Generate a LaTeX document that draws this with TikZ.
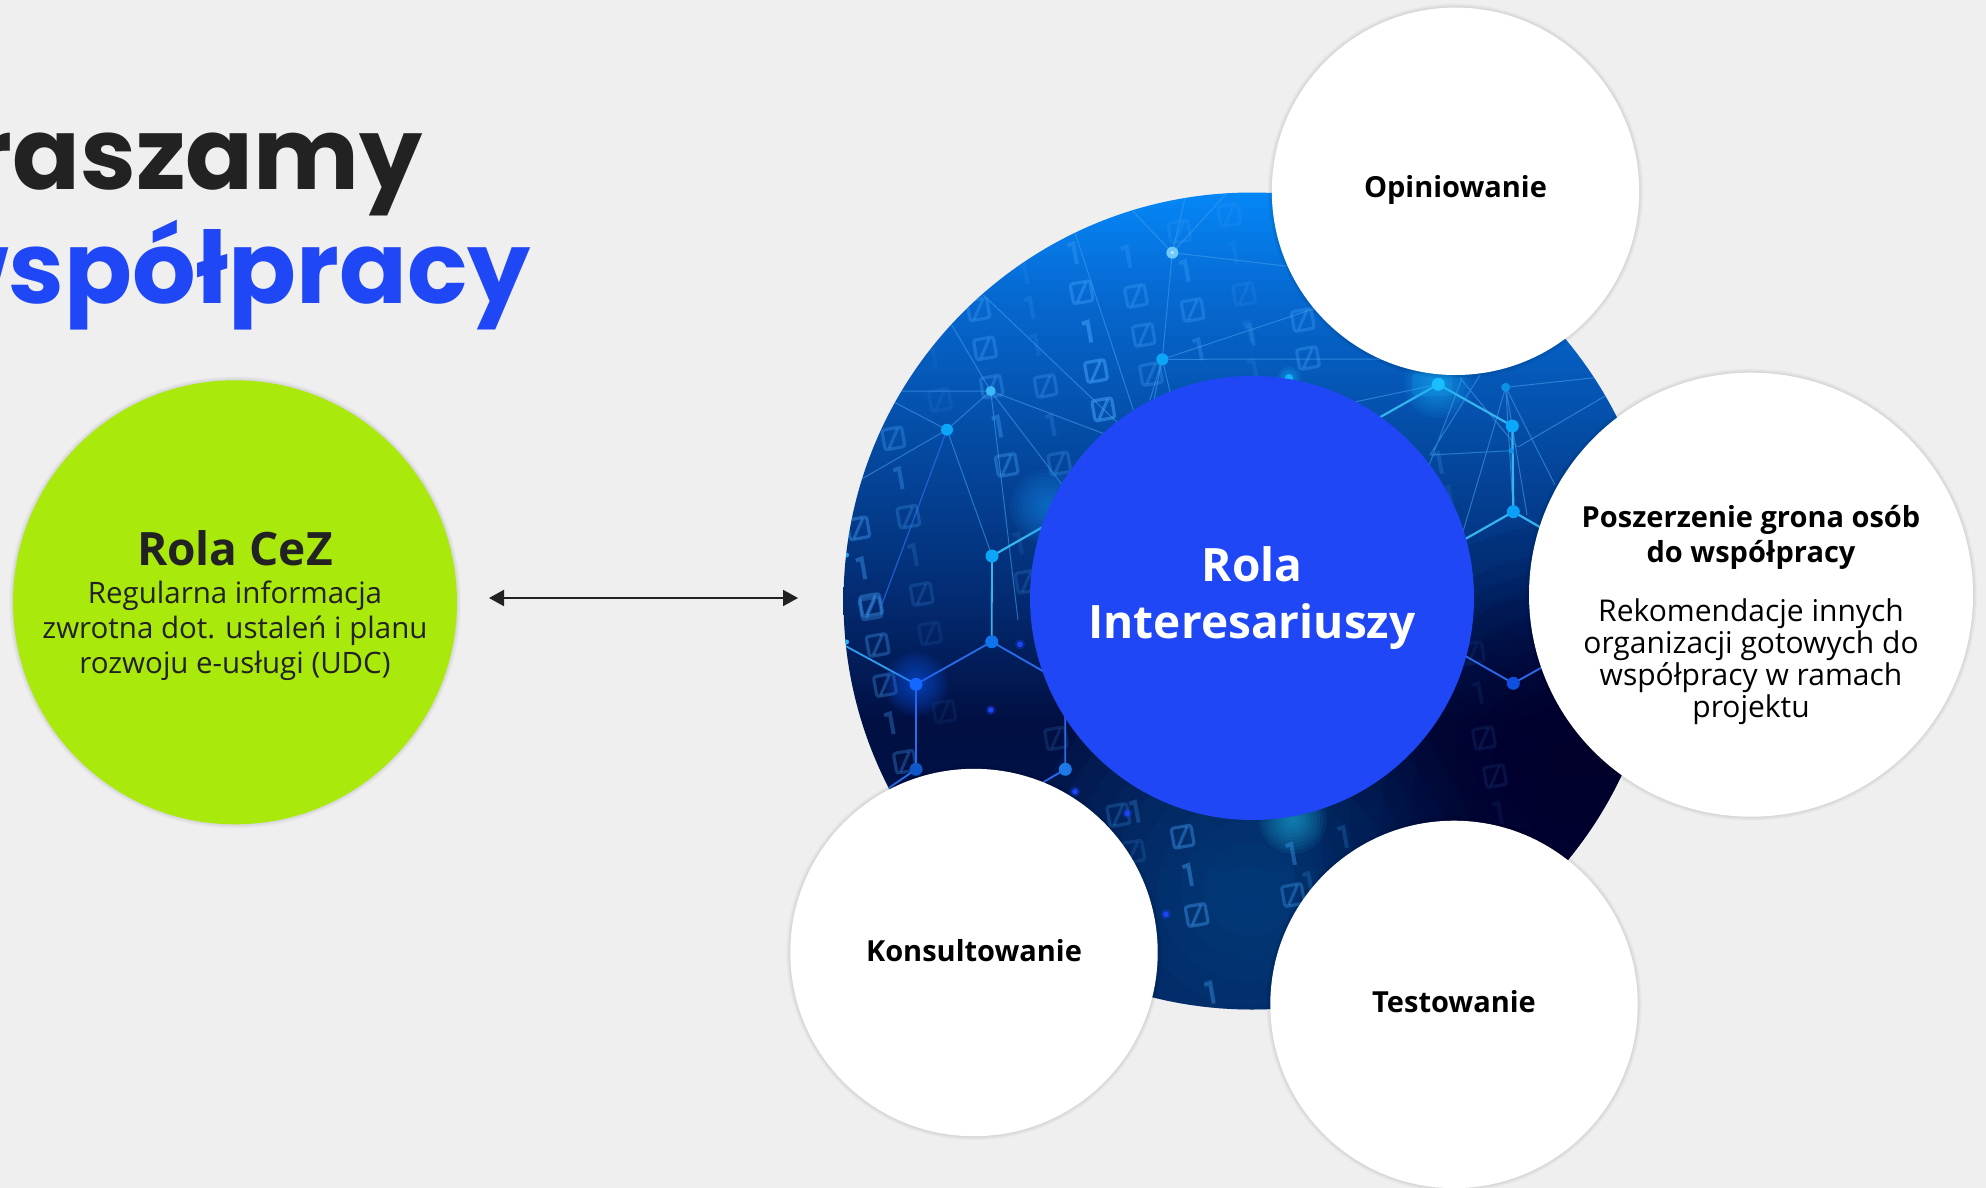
\documentclass[tikz,border=0pt]{standalone}
\usepackage{fontspec}
\setmainfont{Open Sans}
\newfontfamily\popfont{Poppins}
\usetikzlibrary{arrows.meta}
\definecolor{pagebg}{HTML}{EFEFEF}
\definecolor{ink}{HTML}{222222}
\definecolor{brandblue}{HTML}{1F47F5}
\definecolor{brandgreen}{HTML}{AAE90C}
\definecolor{digit}{HTML}{46A6FF}
\definecolor{wire}{HTML}{3E9BEC}
\definecolor{wirebright}{HTML}{35B4F0}
\definecolor{wireblue}{HTML}{2A6CEC}
\definecolor{dotcyan}{HTML}{0BA6F8}
\definecolor{sa}{HTML}{021C55}
\definecolor{sb}{HTML}{010F42}
\definecolor{sc}{HTML}{032A70}
\definecolor{sd}{HTML}{04489F}
\definecolor{se}{HTML}{0668D0}
\definecolor{sf}{HTML}{0587F7}
\definecolor{glowbase}{HTML}{0F5AA0}
\definecolor{glowdark}{HTML}{00002A}
\definecolor{glowa}{HTML}{1690F0}
\definecolor{glowb}{HTML}{22C6EE}
\definecolor{glowc}{HTML}{18B4FA}
\definecolor{glowd}{HTML}{1060FF}
\definecolor{da}{HTML}{0E74EE}
\definecolor{db}{HTML}{1468FF}
\definecolor{dc}{HTML}{0F56C8}
\definecolor{dd}{HTML}{1E78E8}
\definecolor{de}{HTML}{19BEFF}
\definecolor{df}{HTML}{0AA8FA}
\definecolor{dg}{HTML}{0AA0F8}
\definecolor{dh}{HTML}{0E4FE0}
\definecolor{di}{HTML}{0E8FE8}
\definecolor{dj}{HTML}{2A9FF0}
\definecolor{dk}{HTML}{2AB5F0}
\definecolor{dl}{HTML}{1A3CF0}
\definecolor{dm}{HTML}{1B46F5}
\pgfdeclareverticalshading{netbg}{100bp}{
 color(0bp)=(sa);
 color(25bp)=(sa);
 color(42.5bp)=(sb);
 color(50bp)=(sc);
 color(59bp)=(sd);
 color(68.5bp)=(se);
 color(75bp)=(sf);
 color(100bp)=(sf)}
\tikzset{
 bubble/.style={circle,inner sep=0pt,minimum size=#1,align=center},
 whitebubble/.style={bubble=#1,fill=white,text=black},
 headtext/.style={font=\fontsize{29}{35}\selectfont\bfseries,text=black,align=center,inner sep=0pt},
 bodytext/.style={font=\fontsize{30}{32}\selectfont,text=black,align=center,inner sep=0pt},
 titletext/.style={font=\fontsize{100}{110}\selectfont\popfont\bfseries,inner sep=0pt,anchor=base east},
 thinwire/.style={wire,line width=1pt,opacity=.62},
 hexwire/.style={wirebright,line width=2.2pt},
 bluewire/.style={wireblue,line width=1.8pt},
 twoway/.style={ink,line width=2pt,{Triangle[length=15pt,width=16pt]}-{Triangle[length=15pt,width=16pt]}}
}
\newcommand{\softring}[3]{%
 \foreach \k in {1,2,3,4}{\fill[black,opacity=.022] (#1,#2) circle ({#3+\k});}}
\newcommand{\glowat}[4]{%
 \foreach \k in {1,...,10}{\fill[#4,opacity=.075] (#1,#2) circle ({#3*\k/10});}}
\newcommand{\zb}[3]{%
 \begin{scope}[shift={(#1,#2)},rotate=10,opacity=#3]
  \draw[digit,line width=3.2pt,rounded corners=2.5pt] (-10,-10) rectangle (10,10);
  \draw[digit,line width=3pt] (-6,9) -- (6,-9);
 \end{scope}}
\newcommand{\ob}[3]{%
 \begin{scope}[shift={(#1,#2)},rotate=10,opacity=#3]
  \draw[digit,line width=4pt] (-6,-9) -- (0,-10) -- (0,11);
 \end{scope}}
\newcommand{\zz}[3]{\zb{\fpeval{840+(#1)/3}}{\fpeval{190+(#2)/3}}{#3}}
\newcommand{\oo}[3]{\ob{\fpeval{840+(#1)/3}}{\fpeval{190+(#2)/3}}{#3}}
\newcommand{\zy}[3]{\zb{\fpeval{840+(#1)/3}}{\fpeval{600+(#2)/3}}{#3}}
\newcommand{\oy}[3]{\ob{\fpeval{840+(#1)/3}}{\fpeval{600+(#2)/3}}{#3}}
\begin{document}
\begin{tikzpicture}[x=1pt,y=-1pt]
\useasboundingbox (0,0) rectangle (1986,1188);
\fill[pagebg] (0,0) rectangle (1986,1188);

% title (runs off the left edge of the page)
\node[titletext,text=ink] (titleone) at (423,189) {raszamy};
\node[titletext,text=brandblue] (titletwo) at (531,303.7) {współpracy};

% network picture
\begin{scope}
\clip (1252,601) circle (408.5);
\shade[shading=netbg] (1252,601) circle (408.5);
\glowat{1250}{890}{230}{glowbase}
\glowat{1590}{820}{300}{glowdark}
\glowat{1570}{760}{190}{glowdark}

% digits
\zz{725}{307}{.38}\zz{888}{318}{.3}\zz{1058}{360}{.3}\zz{1212}{312}{.14}\zz{911}{435}{.3}
\zz{768}{543}{.5}\zz{790}{658}{.5}\zz{933}{552}{.28}\zz{415}{358}{.3}\zz{435}{475}{.32}
\zz{455}{590}{.3}\zz{617}{588}{.28}\zz{300}{630}{.1}\zz{160}{745}{.3}\zz{500}{825}{.36}
\zz{658}{820}{.25}\zz{205}{980}{.25}\zz{55}{1015}{.38}\zz{93}{1245}{.38}\zz{245}{1212}{.18}
\zz{1018}{125}{.18}\zz{1168}{75}{.14}\zz{560}{1175}{.18}
\oo{705}{190}{.3}\oo{865}{200}{.26}\oo{1040}{243}{.3}\oo{1185}{190}{.12}\oo{557}{250}{.12}
\oo{575}{355}{.18}\oo{748}{425}{.5}\oo{590}{465}{.14}\oo{1080}{478}{.3}\oo{1230}{425}{.14}
\oo{283}{505}{.08}\oo{478}{710}{.36}\oo{638}{705}{.2}\oo{182}{865}{.32}\oo{225}{1095}{.18}
\oo{70}{1135}{.38}\oo{540}{1060}{.12}
\zy{92}{25}{.3}\zy{113}{135}{.32}\zy{135}{255}{.3}\zy{195}{485}{.28}\zy{270}{100}{.1}
\zy{313}{335}{.08}\zy{648}{415}{.15}\zy{835}{645}{.22}\zy{1028}{710}{.38}\zy{1070}{945}{.38}
\zy{880}{755}{.15}
\oy{155}{370}{.3}\oy{890}{635}{.25}\oy{1050}{825}{.4}\oy{1115}{1180}{.2}
\zb{1293}{895}{.32}\ob{1310}{883}{.2}\ob{1293}{854}{.36}\ob{1345}{837}{.2}\ob{1212}{992}{.22}
\zb{1302.7}{320}{.3}\zb{1308}{358}{.32}\ob{1252}{335}{.2}\ob{1255}{370}{.15}
\ob{1440}{463}{.2}\ob{1450}{497}{.12}\zb{1473}{653}{.08}\ob{1480}{693}{.08}
\zb{1484}{738}{.1}\zb{1495}{776}{.1}\ob{1500}{813}{.07}

% named vertices
\coordinate (na) at (1172.3,252.7);
\coordinate (nb) at (1162.3,359.3);
\coordinate (nc) at (990.7,391);
\coordinate (nd) at (947,429.7);
\coordinate (ne) at (992,556);
\coordinate (nf) at (991.7,641.7);
\coordinate (ng) at (916,684.3);
\coordinate (nh) at (916,769.3);
\coordinate (ni) at (1065.3,769.3);
\coordinate (ma) at (1438.3,384.3);
\coordinate (mb) at (1512.3,426);
\coordinate (mc) at (1513.3,511.7);
\coordinate (md) at (1513.3,683.3);
\coordinate (me) at (1505.7,387.3);
\coordinate (mf) at (1511,450.7);

% thin network lines
\draw[thinwire] (na) -- (1132.3,210.7) (na) -- (1185,198) (na) -- (1226.7,193.3) (na) -- (1320,270) (na) -- (nb);
\draw[thinwire] (nb) -- (1340,300) (nb) -- (1420,359) (nb) -- (1172,400) (nb) -- (1150,400) (nb) -- (1154,400);
\draw[thinwire] (nc) -- (951.7,325) (nc) -- (901.7,391) (nc) -- (nd) (nc) -- (1110,436) (nc) -- (1066,490) (nc) -- (1018,620);
\draw[thinwire] (983.3,295) -- (1120,425) (1075,233) -- (1135,415);
\draw[thinwire] (nd) -- (890,400) (nd) -- (860,480) (nd) -- (ne);
\draw[wireblue,line width=1.2pt,opacity=.75] (nd) -- (882,604);
\draw[thinwire] (ma) -- (1345,404);
\draw[thinwire] (me) -- (1610,376) (me) -- (1462,535) (me) -- (1555,485) (me) -- (1527,515) (me) -- (mc);
\draw[thinwire] (1518,447) -- (1612,392) (1430,455) -- (mf) (1430,455) -- (1480,375) (1428,468) -- (1462,378) (1460,378) -- (1517,447);
\draw[thinwire] (1566,338) -- (1640,372);

% hexagon lines
\draw[hexwire] (ne) -- (1048,524) (ma) -- (1375,420) (ma) -- (mb) -- (mc) (mc) -- (1460,542) (mc) -- (1545,530);
\draw[wirebright,line width=1.8pt] (ne) -- (nf);
\draw[wirebright!70!wireblue,line width=1.8pt] (ng) -- (840,643);
\draw[bluewire] (nf) -- (ng) (nf) -- (1048,674) (ng) -- (nh) (nh) -- (880,794) (ni) -- (1065.3,715) (ni) -- (1035,787) (md) -- (1460,653) (md) -- (1548,664);

% glows
\glowat{1048}{507}{38}{glowa}
\glowat{1293}{820}{34}{glowb}
\glowat{1438}{384}{34}{glowc}
\fill[glowc,opacity=.18,rounded corners=4pt] (1412,373) rectangle (1452,396);
\glowat{916}{684}{32}{glowd}
\glowat{1289}{378}{12}{glowc}

% dots
\fill[dotcyan!60!white] (na) circle (6);
\fill[white,opacity=.6] (na) circle (1.6);
\fill[dotcyan] (nb) circle (6);
\fill[dotcyan!80!white] (nc) circle (5);
\fill[dotcyan] (nd) circle (6);
\fill[dotcyan] (ne) circle (6.5);
\fill[da] (nf) circle (6.5);
\fill[db] (ng) circle (6.5);
\fill[dc] (nh) circle (6.5);
\fill[dd] (ni) circle (6.5);
\fill[de] (ma) circle (6.5);
\fill[df] (mb) circle (6.5);
\fill[dg] (mc) circle (6.5);
\fill[dh] (md) circle (6.5);
\fill[di] (me) circle (4.5);
\fill[di] (mf) circle (2.6);
\fill[glowc] (1289,378) circle (4);
\fill[dj] (846.5,555) circle (2.5);
\fill[dk] (846.5,642) circle (2.5);
\foreach \px/\py in {1020/644.3,990.7/710,1075/791.7,1127.3/813.3,1166/914.3}{
 \fill[dl,opacity=.35] (\px,\py) circle (5);
 \fill[dm] (\px,\py) circle (2.8);}
\end{scope}

% circles
\node[bubble=444pt,fill=brandblue,text=white,font=\fontsize{46}{57.5}\selectfont\bfseries] (centre) at (1252,598) {Rola\\Interesariuszy};

\softring{1455.5}{191.3}{183.7}
\node[whitebubble=367.4pt] (opin) at (1455.5,191.3) {};
\softring{1751}{594.7}{222}
\node[whitebubble=444pt] (posz) at (1751,594.7) {};
\softring{974}{952.5}{183.7}
\node[whitebubble=367.4pt] (kons) at (974,952.5) {};
\softring{1454}{1004.4}{183.7}
\node[whitebubble=367.4pt] (test) at (1454,1004.4) {};
\softring{235}{602.3}{222}
\node[bubble=444pt,fill=brandgreen] (cez) at (235,602.3) {};

\node[headtext] (opintext) at (1455.5,189.5) {Opiniowanie};
\node[headtext] (konstext) at (974,950.5) {Konsultowanie};
\node[headtext] (testtext) at (1454,1001.5) {Testowanie};
\node[headtext] (poszhead) at (1751,537.5) {Poszerzenie grona osób\\do współpracy};
\node[bodytext] (poszbody) at (1751,661.5) {Rekomendacje innych\\organizacji gotowych do\\współpracy w ramach\\projektu};

\node[font=\fontsize{46}{50}\selectfont\bfseries,text=ink,inner sep=0pt] (cezhead) at (235,548) {Rola CeZ};
\node[font=\fontsize{29.5}{35}\selectfont,text=ink,align=center,inner sep=0pt] (cezbody) at (235,631) {Regularna informacja\\zwrotna dot. ustaleń i planu\\rozwoju e-usługi (UDC)};

\coordinate (arrowleft) at (489,598);
\coordinate (arrowright) at (798,598);
\draw[twoway] (arrowleft) -- (arrowright);
\end{tikzpicture}
\end{document}
